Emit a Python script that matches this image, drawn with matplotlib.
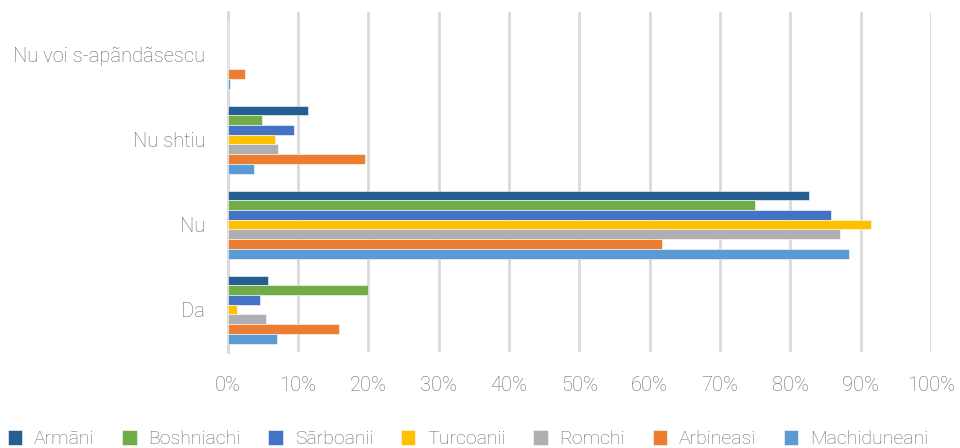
import numpy as np
import matplotlib.pyplot as plt

plt.rcParams['font.family'] = ['Roboto', 'DejaVu Sans']
plt.rcParams['font.weight'] = 'light'

# categories (bottom to top) and series
categories = ['Da', 'Nu', 'Nu shtiu', 'Nu voi s-apãndãsescu']
series = ['Armãni', 'Boshniachi', 'Sãrboanii', 'Turcoanii', 'Romchi', 'Arbineasi', 'Machiduneani']
colors = ['#255E91', '#70AD47', '#4472C4', '#FFC000', '#AFAFB1', '#ED7D31', '#5B9BD5']

armani = [5.7, 82.6, 11.4, 0.0]
boshniachi = [19.9, 74.9, 4.9, 0.0]
sarboanii = [4.6, 85.7, 9.4, 0.0]
turcoanii = [1.4, 91.5, 6.7, 0.0]
romchi = [5.5, 87.0, 7.2, 0.0]
arbineasi = [15.9, 61.8, 19.5, 2.5]
machiduneani = [7.1, 88.3, 3.8, 0.4]
values = [armani, boshniachi, sarboanii, turcoanii, romchi, arbineasi, machiduneani]

txt = '#6A6A6A'

fig = plt.figure(figsize=(9.6, 4.48), dpi=100)
ax = fig.add_axes([0.237, 0.214, 0.733, 0.759])

y = np.arange(len(categories))
n = len(series)
h = 0.8 / n
for i, (name, vals, c) in enumerate(zip(series, values, colors)):
    off = ((n - 1) / 2 - i) * h
    ax.barh(y + off, vals, height=h, color=c, label=name,
            edgecolor='white', linewidth=0.4, zorder=3)

ax.set_xlim(0, 100)
ax.set_ylim(-0.5, 3.5)
ax.set_xticks(np.arange(0, 101, 10))
ax.set_xticklabels([f'{v}%' for v in range(0, 101, 10)])
ax.set_yticks(y)
ax.set_yticklabels(categories)
ax.grid(axis='x', color='#D9D9D9', linewidth=2, zorder=0)
for s in ['top', 'right', 'bottom']:
    ax.spines[s].set_visible(False)
ax.spines['left'].set_color('#D9D9D9')
ax.spines['left'].set_linewidth(2)
ax.tick_params(axis='both', length=0, colors=txt)
ax.tick_params(axis='x', labelsize=14.5, pad=17)
ax.tick_params(axis='y', labelsize=14.5, pad=16)

fig.legend(loc='lower left', bbox_to_anchor=(0.0, -0.018, 0.975, 0.06), mode='expand',
           ncol=n, frameon=False, fontsize=14, labelcolor=txt,
           handlelength=0.75, handleheight=0.75, handletextpad=0.6, borderaxespad=0)

fig.savefig('out.png', dpi=100)
